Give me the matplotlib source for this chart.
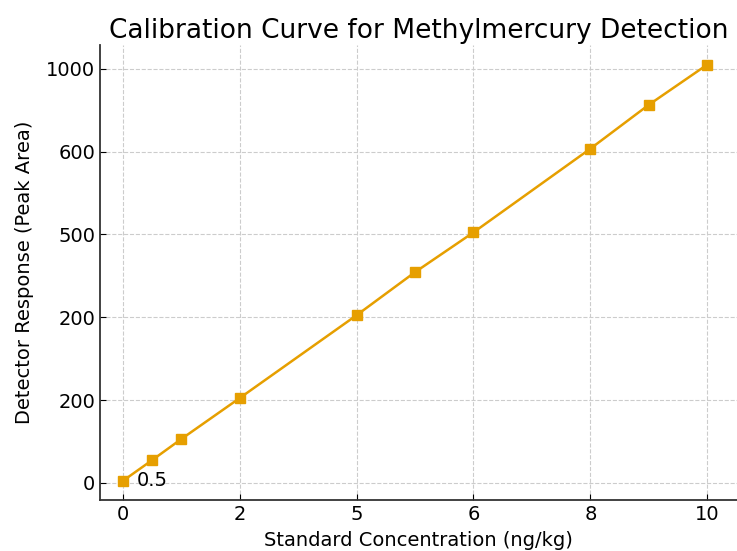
import matplotlib
matplotlib.use("Agg")
import matplotlib.pyplot as plt

# calibration standards (ng/kg) and detector response (peak area)
concentration = [0, 0.5, 1, 2, 4, 5, 6, 8, 9, 10]
response = [5, 55, 106, 205, 405, 509, 605, 807, 913, 1010]

x_ticks = [0, 2, 4, 6, 8, 10]
x_tick_labels = ["0", "2", "5", "6", "8", "10"]
y_ticks = [0, 200, 400, 600, 800, 1000]
y_tick_labels = ["0", "200", "200", "500", "600", "1000"]

line_color = "#E69F00"

fig = plt.figure(figsize=(7.37, 5.51), dpi=100)
ax = fig.add_axes([0.1357, 0.0926, 0.8643, 0.8254])

ax.plot(concentration, response, color=line_color, lw=1.8,
        marker="s", markersize=7, zorder=3)
ax.text(0.24, 5, "0.5", fontsize=14, va="center", ha="left")

ax.set_xlim(-0.39, 10.51)
ax.set_ylim(-41, 1057)
ax.set_xticks(x_ticks)
ax.set_xticklabels(x_tick_labels)
ax.set_yticks(y_ticks)
ax.set_yticklabels(y_tick_labels)
ax.tick_params(labelsize=14, direction="in", length=4)

ax.grid(True, linestyle="--", color="#cccccc", lw=0.8)
ax.set_axisbelow(True)
for side in ("top", "right"):
    ax.spines[side].set_visible(False)
for side in ("left", "bottom"):
    ax.spines[side].set_linewidth(1.3)
    ax.spines[side].set_color("#333333")

ax.set_title("Calibration Curve for Methylmercury Detection", fontsize=19, pad=5)
ax.set_xlabel("Standard Concentration (ng/kg)", fontsize=14, labelpad=5)
ax.set_ylabel("Detector Response (Peak Area)", fontsize=14, labelpad=9)

fig.savefig("out.png", dpi=100)
